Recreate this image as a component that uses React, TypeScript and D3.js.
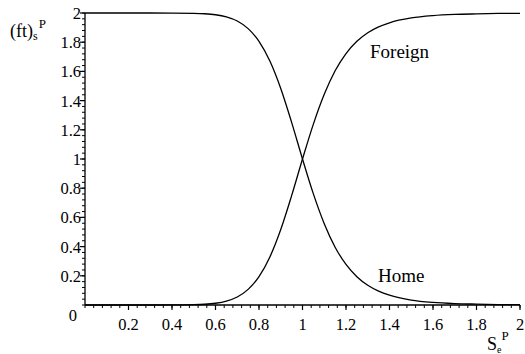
import React from "react";
import * as d3 from "d3";

// Sampled positions along S_e^P
const sValues = [
  0, 0.1, 0.2, 0.3, 0.4, 0.5, 0.55, 0.6, 0.65, 0.7, 0.75, 0.8, 0.85, 0.9, 0.95,
  1.0, 1.05, 1.1, 1.15, 1.2, 1.25, 1.3, 1.35, 1.4, 1.5, 1.6, 1.7, 1.8, 1.9, 2.0,
];

// Foreign share (ft)_s^P
const foreignValues = [
  0, 0, 0, 0, 0.0002, 0.002, 0.005, 0.012, 0.027, 0.055, 0.107, 0.194, 0.329,
  0.517, 0.749, 1.0, 1.239, 1.443, 1.604, 1.722, 1.806, 1.865, 1.905, 1.933,
  1.966, 1.982, 1.99, 1.994, 1.997, 1.998,
];

// Home share (ft)_s^P
const homeValues = [
  2, 2, 2, 2, 1.9998, 1.998, 1.995, 1.988, 1.973, 1.945, 1.893, 1.806, 1.671,
  1.483, 1.251, 1.0, 0.761, 0.557, 0.396, 0.278, 0.194, 0.135, 0.095, 0.067,
  0.034, 0.018, 0.01, 0.006, 0.003, 0.002,
];

const xTickValues = [0.2, 0.4, 0.6, 0.8, 1, 1.2, 1.4, 1.6, 1.8, 2];
const xTickLabels = ["0.2", "0.4", "0.6", "0.8", "1", "1.2", "1.4", "1.6", "1.8", "2"];
const yTickValues = [0.2, 0.4, 0.6, 0.8, 1, 1.2, 1.4, 1.6, 1.8, 2];
const yTickLabels = ["0.2", "0.4", "0.6", "0.8", "1", "1.2", "1.4", "1.6", "1.8", "2"];

const W = 525;
const H = 354;
const FONT = "'Liberation Serif', 'DejaVu Serif', 'Times New Roman', serif";

export default function App() {
  const x = d3.scaleLinear().domain([0, 2]).range([85, 520]);
  const y = d3.scaleLinear().domain([0, 2]).range([305, 13]);

  const line = d3
    .line<number>()
    .x((_, i) => x(sValues[i]))
    .y((d) => y(d))
    .curve(d3.curveMonotoneX);

  const minor = d3.range(0, 51).map((i) => i * 0.04);

  return (
    <div style={{ position: "fixed", left: 0, top: 0 }}>
      <svg width={W} height={H} style={{ display: "block", background: "#fff", fontFamily: FONT }}>
        {/* axes */}
        <line x1={x(0)} x2={x(2)} y1={y(0)} y2={y(0)} stroke="#000" strokeWidth={1.3} />
        <line x1={x(0)} x2={x(0)} y1={y(0)} y2={y(2)} stroke="#000" strokeWidth={1.3} />

        {/* minor ticks */}
        {minor.map((v, i) => (
          <g key={"m" + i}>
            <line x1={x(v)} x2={x(v)} y1={y(0)} y2={y(0) + 3} stroke="#000" strokeWidth={1} />
            <line x1={x(0) - 3} x2={x(0)} y1={y(v)} y2={y(v)} stroke="#000" strokeWidth={1} />
          </g>
        ))}

        {/* major ticks & labels */}
        {xTickValues.map((v, i) => (
          <g key={"x" + i}>
            <line x1={x(v)} x2={x(v)} y1={y(0)} y2={y(0) + 5} stroke="#000" strokeWidth={1.2} />
            <text x={x(v)} y={y(0) + 25} textAnchor="middle" fontSize={16.5}>
              {xTickLabels[i]}
            </text>
          </g>
        ))}
        {yTickValues.map((v, i) => (
          <g key={"y" + i}>
            <line x1={x(0) - 5} x2={x(0)} y1={y(v)} y2={y(v)} stroke="#000" strokeWidth={1.2} />
            <text x={x(0) - 4} y={y(v) + 6} textAnchor="end" fontSize={16.5}>
              {yTickLabels[i]}
            </text>
          </g>
        ))}
        <text x={77} y={321} textAnchor="end" fontSize={16.5}>
          0
        </text>

        {/* curves */}
        <path d={line(homeValues) || ""} fill="none" stroke="#000" strokeWidth={1.3} />
        <path d={line(foreignValues) || ""} fill="none" stroke="#000" strokeWidth={1.3} />

        {/* curve labels */}
        <text x={370} y={58} fontSize={19}>
          Foreign
        </text>
        <text x={378} y={282} fontSize={19}>
          Home
        </text>

        {/* y-axis title */}
        <text x={10} y={37} fontSize={18}>
          (ft)
          <tspan fontSize={12} dy={3}>s</tspan>
          <tspan fontSize={13} dx={1} dy={-12}>P</tspan>
        </text>

        {/* x-axis title */}
        <text x={487} y={350} fontSize={18}>
          S
          <tspan fontSize={10} dy={3}>e</tspan>
          <tspan fontSize={13} dx={0} dy={-13}>P</tspan>
        </text>
      </svg>
    </div>
  );
}
